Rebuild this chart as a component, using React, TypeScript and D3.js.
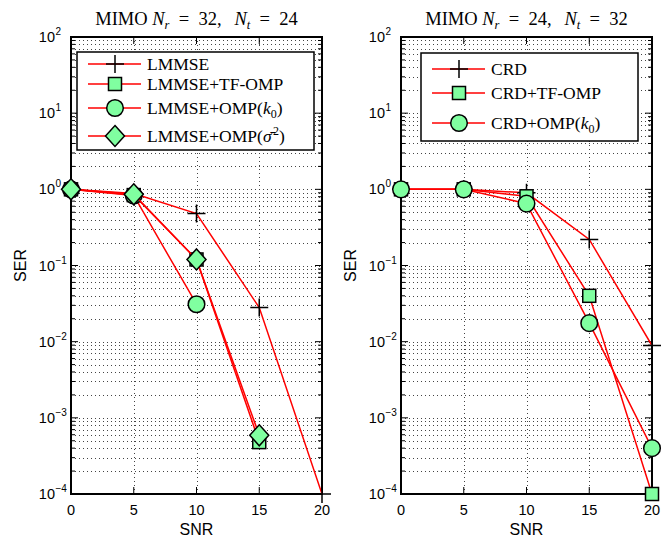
import React from 'react';
import * as d3 from 'd3';

const snr = [0, 5, 10, 15, 20];
const xTicks = [0, 5, 10, 15, 20];
const yExponents = [2, 1, 0, -1, -2, -3, -4];

// Left panel: MIMO Nr=32, Nt=24
const leftLMMSE = [1, 0.88, 0.48, 0.028, 1e-4];
const leftTFOMP = [1, 0.84, 0.12, 4.8e-4, null];
const leftOMPk0 = [1, 0.83, 0.031, null, null];
const leftOMPsigma = [1, 0.86, 0.12, 5.9e-4, null];
const leftLabels = ['LMMSE', 'LMMSE+TF-OMP', 'LMMSE+OMP(k0)', 'LMMSE+OMP(s2)'];

// Right panel: MIMO Nr=24, Nt=32
const rightCRD = [1, 1, 0.9, 0.22, 0.0089];
const rightTFOMP = [1, 1, 0.81, 0.04, 1e-4];
const rightOMPk0 = [1, 1, 0.65, 0.0175, 4e-4];
const rightLabels = ['CRD', 'CRD+TF-OMP', 'CRD+OMP(k0)'];

const W = 251;
const H = 457;
const TOP = 37;
const LINE = '#ff0000';
const FILL = '#80ffa0';

type Marker = 'plus' | 'square' | 'circle' | 'diamond';

const x = d3.scaleLinear().domain([0, 20]).range([0, W]);
const y = d3.scaleLog().domain([1e-4, 1e2]).range([H, 0]);

function MarkerShape({ type, cx, cy }: { type: Marker; cx: number; cy: number }) {
  if (type === 'plus') {
    return (
      <path
        d={`M${cx - 9},${cy}H${cx + 9}M${cx},${cy - 9}V${cy + 9}`}
        stroke="#000"
        strokeWidth={1.5}
        fill="none"
      />
    );
  }
  if (type === 'square') {
    return <rect x={cx - 6.5} y={cy - 6.5} width={13} height={13} fill={FILL} stroke="#000" strokeWidth={1.5} />;
  }
  if (type === 'circle') {
    return <circle cx={cx} cy={cy} r={8.3} fill={FILL} stroke="#000" strokeWidth={1.5} />;
  }
  return (
    <path
      d={`M${cx},${cy - 10.5}L${cx + 9.5},${cy}L${cx},${cy + 10.5}L${cx - 9.5},${cy}Z`}
      fill={FILL}
      stroke="#000"
      strokeWidth={1.5}
    />
  );
}

function Label({ text }: { text: string }) {
  if (text.endsWith('(k0)')) {
    const base = text.slice(0, -4);
    return (
      <>
        <tspan>{base}(</tspan>
        <tspan fontStyle="italic">k</tspan>
        <tspan fontSize="12" dy={4}>0</tspan>
        <tspan dy={-4}>)</tspan>
      </>
    );
  }
  if (text.endsWith('(s2)')) {
    const base = text.slice(0, -4);
    return (
      <>
        <tspan>{base}(</tspan>
        <tspan fontStyle="italic">σ̄</tspan>
        <tspan fontSize="12" dx={1.5} dy={-7}>2</tspan>
        <tspan dy={7}>)</tspan>
      </>
    );
  }
  return <tspan>{text}</tspan>;
}

type Series = { values: (number | null)[]; marker: Marker; label: string };

function Panel({
  left,
  title,
  series,
  legend,
}: {
  left: number;
  title: [string, string];
  series: Series[];
  legend: { x: number; y: number; w: number; h: number; rows: number[] };
}) {
  const line = d3
    .line<[number, number | null]>()
    .defined((d) => d[1] !== null && (d[1] as number) > 0)
    .x((d) => x(d[0]))
    .y((d) => y(d[1] as number));

  const minor: number[] = [];
  for (let e = -4; e < 2; e++) {
    for (let k = 2; k <= 9; k++) minor.push(k * Math.pow(10, e));
  }
  const majors = yExponents.map((e) => Math.pow(10, e));

  return (
    <g transform={`translate(${left},${TOP})`}>
      <defs>
        <clipPath id={`clip${left}`}>
          <rect x={0} y={0} width={W} height={H} />
        </clipPath>
      </defs>
      {/* title */}
      <text
        x={W / 2}
        y={-12}
        textAnchor="middle"
        fontFamily="'Liberation Serif', serif"
        fontSize={18.5}
      >
        <tspan>MIMO </tspan>
        <tspan fontStyle="italic">N</tspan>
        <tspan fontStyle="italic" fontSize={12.5} dy={4}>r</tspan>
        <tspan dy={-4}>{'\u2002=\u2002'}{title[0]},{'\u2002\u2009'}</tspan>
        <tspan fontStyle="italic">N</tspan>
        <tspan fontStyle="italic" fontSize={12.5} dy={4}>t</tspan>
        <tspan dy={-4}>{'\u2002=\u2002'}{title[1]}</tspan>
      </text>
      {/* grid */}
      <g stroke="#444" strokeWidth={1} strokeDasharray="1,3" fill="none">
        {[...minor, ...majors.slice(1, -1)].map((v, i) => (
          <line key={'h' + i} x1={0} x2={W} y1={Math.round(y(v)) + 0.5} y2={Math.round(y(v)) + 0.5} />
        ))}
        {xTicks.slice(1, -1).map((v) => (
          <line key={'v' + v} x1={Math.round(x(v)) + 0.5} x2={Math.round(x(v)) + 0.5} y1={0} y2={H} />
        ))}
      </g>
      {/* ticks */}
      <g stroke="#000" strokeWidth={1}>
        {majors.map((v, i) => (
          <g key={'ym' + i}>
            <line x1={0} x2={7} y1={y(v)} y2={y(v)} />
            <line x1={W} x2={W - 7} y1={y(v)} y2={y(v)} />
          </g>
        ))}
        {minor.map((v, i) => (
          <g key={'yn' + i}>
            <line x1={0} x2={4} y1={y(v)} y2={y(v)} />
            <line x1={W} x2={W - 4} y1={y(v)} y2={y(v)} />
          </g>
        ))}
        {xTicks.map((v) => (
          <g key={'xt' + v}>
            <line x1={x(v)} x2={x(v)} y1={H} y2={H - 7} />
            <line x1={x(v)} x2={x(v)} y1={0} y2={7} />
          </g>
        ))}
      </g>
      <rect x={0} y={0} width={W} height={H} fill="none" stroke="#000" strokeWidth={2} />
      {/* tick labels */}
      <g fontFamily="'Liberation Sans', Arial, sans-serif" fontSize={14.5} fill="#000">
        {xTicks.map((v) => (
          <text key={'xl' + v} x={x(v)} y={H + 21} textAnchor="middle">
            {v}
          </text>
        ))}
        {yExponents.map((e) => (
          <g key={'yl' + e}>
            <text x={-16} y={y(Math.pow(10, e)) + 5} textAnchor="end">
              10
            </text>
            <text x={-15.5} y={y(Math.pow(10, e)) - 2} fontSize={10}>
              {e < 0 ? '−' + -e : String(e)}
            </text>
          </g>
        ))}
        <text x={W / 2} y={H + 41} textAnchor="middle" fontSize={16}>
          SNR
        </text>
        <text transform={`translate(-45,${H / 2}) rotate(-90)`} textAnchor="middle" fontSize={16}>
          SER
        </text>
      </g>
      {/* data */}
      {series.map((s, i) => {
        const pts = snr.map((v, j) => [v, s.values[j]] as [number, number | null]);
        return (
          <g key={'s' + i}>
            <path d={line(pts) || ''} stroke={LINE} strokeWidth={1.5} fill="none" clipPath={`url(#clip${left})`} />
            {pts
              .filter((p) => p[1] !== null)
              .map((p, j) => (
                <MarkerShape key={j} type={s.marker} cx={x(p[0])} cy={y(p[1] as number)} />
              ))}
          </g>
        );
      })}
      {/* legend */}
      <g>
        <rect
          x={legend.x}
          y={legend.y}
          width={legend.w}
          height={legend.h}
          fill="#fff"
          stroke="#000"
          strokeWidth={1.5}
        />
        {series.map((s, i) => {
          const ry = legend.rows[i];
          return (
            <g key={'lg' + i}>
              <line x1={legend.x + 11} x2={legend.x + 64} y1={ry} y2={ry} stroke={LINE} strokeWidth={1.5} />
              <MarkerShape type={s.marker} cx={legend.x + 38} cy={ry} />
              <text
                x={legend.x + 70}
                y={ry + 6}
                fontFamily="'Liberation Serif', serif"
                fontSize={17.5}
              >
                <Label text={s.label} />
              </text>
            </g>
          );
        })}
      </g>
    </g>
  );
}

export default function App() {
  const leftSeries: Series[] = [
    { values: leftLMMSE, marker: 'plus', label: leftLabels[0] },
    { values: leftTFOMP, marker: 'square', label: leftLabels[1] },
    { values: leftOMPk0, marker: 'circle', label: leftLabels[2] },
    { values: leftOMPsigma, marker: 'diamond', label: leftLabels[3] },
  ];
  const rightSeries: Series[] = [
    { values: rightCRD, marker: 'plus', label: rightLabels[0] },
    { values: rightTFOMP, marker: 'square', label: rightLabels[1] },
    { values: rightOMPk0, marker: 'circle', label: rightLabels[2] },
  ];
  return (
    <svg
      width={668}
      height={538}
      style={{ position: 'absolute', left: 0, top: 0, background: '#fff' }}
    >
      <rect width={668} height={538} fill="#fff" />
      <Panel
        left={71}
        title={['32', '24']}
        series={leftSeries}
        legend={{ x: 6, y: 15, w: 237, h: 98, rows: [27, 47, 71, 99] }}
      />
      <Panel
        left={401}
        title={['24', '32']}
        series={rightSeries}
        legend={{ x: 20, y: 16, w: 217, h: 88, rows: [32, 56, 86] }}
      />
    </svg>
  );
}
